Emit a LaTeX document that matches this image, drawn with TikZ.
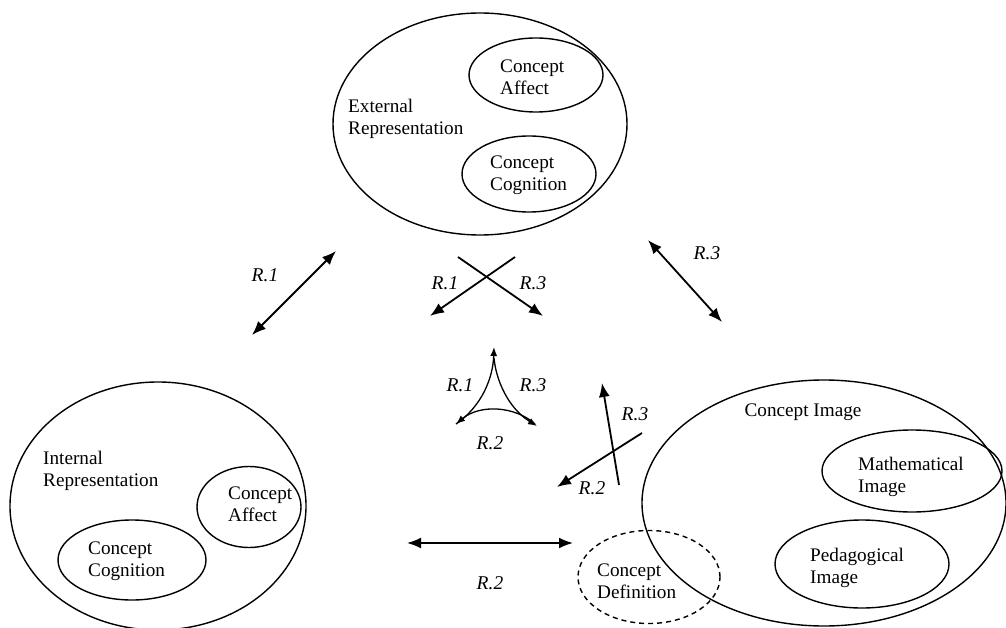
\documentclass[tikz,border=0pt]{standalone}
\usepackage{fontspec}
\setmainfont{Liberation Serif}
\usetikzlibrary{arrows.meta,shapes.geometric}
\begin{document}
\begin{tikzpicture}[x=1pt,y=-1pt,
  oval/.style={draw,ellipse,line width=1.4pt,inner sep=0pt},
  dashoval/.style={oval,dashed,dash pattern=on 5pt off 4pt},
  txt/.style={align=left,anchor=west,inner sep=0pt,font=\fontsize{19.2}{22.5}\selectfont},
  rel/.style={inner sep=0pt,font=\fontsize{19.5}{22}\selectfont\itshape},
  link/.style={line width=1.8pt,-{Latex[length=14pt,width=11pt]}},
  dlink/.style={line width=1.8pt,{Latex[length=14pt,width=11pt]}-{Latex[length=14pt,width=11pt]}},
  tip/.style={line width=1.3pt,-{Latex[length=9pt,width=7pt]}}]
\useasboundingbox (0,0) rectangle (1006,628);

% External representation
\node[oval,minimum width=294pt,minimum height=222pt] (ext) at (480,124) {};
\node[oval,minimum width=134pt,minimum height=74pt] (extaff) at (536,75) {};
\node[oval,minimum width=134pt,minimum height=76pt] (extcog) at (529,174) {};
\node[txt] (extlbl) at (348,119) {External\\Representation};
\node[txt] (extafft) at (500,77) {Concept\\Affect};
\node[txt] (extcogt) at (490,175) {Concept\\Cognition};

% Internal representation
\node[oval,minimum width=296pt,minimum height=248pt] (int) at (158,506) {};
\node[oval,minimum width=104pt,minimum height=81pt] (intaff) at (249,507) {};
\node[oval,minimum width=148pt,minimum height=80pt] (intcog) at (132,560) {};
\node[txt] (intlbl) at (43,471) {Internal\\Representation};
\node[txt] (intafft) at (228,504) {Concept\\Affect};
\node[txt] (intcogt) at (88,561) {Concept\\Cognition};

% Concept image
\node[oval,minimum width=364pt,minimum height=246pt] (img) at (824,503) {};
\node[oval,minimum width=180pt,minimum height=82pt] (math) at (912,471) {};
\node[oval,minimum width=174pt,minimum height=88pt] (ped) at (862,564) {};
\node[dashoval,minimum width=142pt,minimum height=93pt] (def) at (649,577) {};
\node[txt,anchor=center] (imglbl) at (803,412) {Concept Image};
\node[txt] (matht) at (858,477) {Mathematical\\Image};
\node[txt] (pedt) at (810,568) {Pedagogical\\Image};
\node[txt] (deft) at (597,581) {Concept\\Definition};

% end points of the relation arrows
\coordinate (a1) at (252,335); \coordinate (b1) at (336,251);
\coordinate (a3) at (648,240); \coordinate (b3) at (722,322);
\coordinate (xa) at (515,257); \coordinate (xb) at (430,316);
\coordinate (ya) at (458,257); \coordinate (yb) at (543,316);
\coordinate (va) at (619,485); \coordinate (vb) at (602,383);
\coordinate (wa) at (642,433); \coordinate (wb) at (557,487);
\coordinate (ha) at (407,543); \coordinate (hb) at (573,543);
\coordinate (tt) at (494,347); \coordinate (tl) at (456,424); \coordinate (tr) at (537,426);

\draw[dlink] (a1) -- (b1);
\draw[dlink] (a3) -- (b3);
\draw[link] (xa) -- (xb);
\draw[link] (ya) -- (yb);
\draw[link] (va) -- (vb);
\draw[link] (wa) -- (wb);
\draw[dlink] (ha) -- (hb);

% small curved triangle of relations
\draw[tip] (tl) .. controls (482,406) and (493,378) .. (tt);
\draw[tip] (494,358) .. controls (496,380) and (508,408) .. (tr);
\draw[tip] (535,424) .. controls (515,406) and (480,404) .. (tl);

% relation labels
\node[rel] (l1) at (265,275) {R.1};
\node[rel] (l2) at (707,253) {R.3};
\node[rel] (l3) at (445,283) {R.1};
\node[rel] (l4) at (533,283) {R.3};
\node[rel] (l5) at (460,385) {R.1};
\node[rel] (l6) at (533,385) {R.3};
\node[rel] (l7) at (490,443) {R.2};
\node[rel] (l8) at (635,414) {R.3};
\node[rel] (l9) at (592,488) {R.2};
\node[rel] (l10) at (490,583) {R.2};
\end{tikzpicture}
\end{document}
